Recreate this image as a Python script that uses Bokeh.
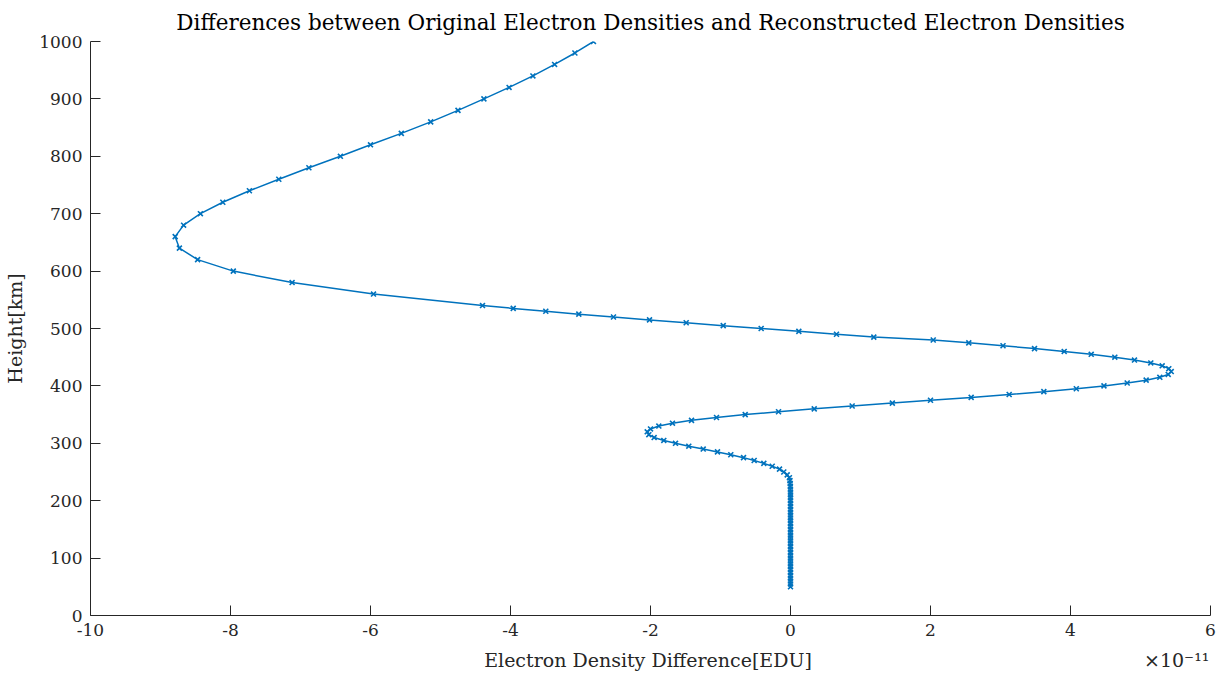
from bokeh.plotting import figure
from bokeh.models import Range1d, FixedTicker
from bokeh.embed import file_html
from bokeh.resources import INLINE

# Heights [km]
heights = [50, 55, 60, 65, 70, 75, 80, 85, 90, 95, 100, 105, 110, 115, 120, 125, 130, 135,
           140, 145, 150, 155, 160, 165, 170, 175, 180, 185, 190, 195, 200, 205, 210, 215,
           220, 225, 230, 235, 240, 245, 250, 255, 260, 265, 270, 275, 280, 285, 290, 295,
           300, 305, 310, 315, 320, 325, 330, 335, 340, 345, 350, 355, 360, 365, 370, 375,
           380, 385, 390, 395, 400, 405, 410, 415, 420, 425, 430, 435, 440, 445, 450, 455,
           460, 465, 470, 475, 480, 485, 490, 495, 500, 505, 510, 515, 520, 525, 530, 535,
           540, 560, 580, 600, 620, 640, 660, 680, 700, 720, 740, 760, 780, 800, 820, 840,
           860, 880, 900, 920, 940, 960, 980, 1000]

# Electron density difference, in units of 1e-11 EDU
diff_e11 = [0.0, 0.0, 0.0, 0.0, 0.0, 0.0, 0.0, 0.0, 0.0, 0.0, 0.0, 0.0, 0.0, 0.0, 0.0, 0.0, 0.0, 0.0,
            0.0, 0.0, 0.0, 0.0, 0.0, 0.0, 0.0, 0.0, 0.0, 0.0, 0.0, 0.0, 0.0, 0.0, 0.0, 0.0,
            -0.001, -0.002, -0.004, -0.008, -0.016, -0.047, -0.096, -0.157, -0.261, -0.381,
            -0.519, -0.671, -0.853, -1.043, -1.247, -1.453,
            -1.643, -1.810, -1.948, -2.024, -2.047, -2.0, -1.881, -1.686, -1.414, -1.057,
            -0.647, -0.171, 0.339, 0.881, 1.455, 2.0,
            2.581, 3.124, 3.619, 4.083, 4.478, 4.810, 5.081, 5.276, 5.396, 5.439, 5.404, 5.310,
            5.147, 4.914, 4.633, 4.296,
            3.910, 3.486, 3.036, 2.547, 2.039, 1.190, 0.657, 0.119, -0.419, -0.961, -1.490,
            -2.014, -2.529, -3.024, -3.496, -3.961,
            -4.40, -5.957, -7.12, -7.96, -8.47, -8.73, -8.79, -8.67, -8.43, -8.11, -7.73,
            -7.31, -6.88, -6.43, -6.00, -5.56,
            -5.14, -4.75, -4.38, -4.02, -3.68, -3.37, -3.08, -2.815]

x_ticks = [-10, -8, -6, -4, -2, 0, 2, 4, 6]
y_ticks = [0, 100, 200, 300, 400, 500, 600, 700, 800, 900, 1000]

title_text = "Differences between Original Electron Densities and Reconstructed Electron Densities"
xlabel = "Electron Density Difference[EDU]"
ylabel = "Height[km]"
exponent_text = "\u00d710\u207b\u00b9\u00b9"

FONT = "DejaVu Serif"
DARK = "#262626"
BLUE = "#0072BD"

NB = "\u00a0"
# x-axis label row: centred quantity name plus the axis multiplier at the right end
xlabel_row = NB * 65 + xlabel + NB * 55 + exponent_text

p = figure(width=1226, height=679, output_backend="svg", toolbar_location=None,
           x_range=Range1d(-10, 6), y_range=Range1d(0, 1000),
           min_border_left=90, min_border_right=16, min_border_top=40, min_border_bottom=64)
p.outline_line_color = None
p.grid.visible = False
p.background_fill_color = "white"
p.border_fill_color = "white"

p.title.text = title_text
p.title.align = "center"
p.title.text_font = FONT
p.title.text_font_size = "21.5px"
p.title.text_font_style = "normal"
p.title.text_color = "black"
p.title.standoff = 14

p.line(diff_e11, heights, line_color=BLUE, line_width=1.5)
p.scatter(diff_e11, heights, marker="x", size=7, line_color=BLUE, line_width=1.6)

for ax in (p.xaxis[0], p.yaxis[0]):
    ax.axis_line_color = DARK
    ax.major_tick_line_color = DARK
    ax.minor_tick_line_color = None
    ax.major_tick_in = 10
    ax.major_tick_out = 0
    ax.major_label_text_font = FONT
    ax.major_label_text_font_size = "17px"
    ax.major_label_text_color = DARK
    ax.axis_label_text_font = FONT
    ax.axis_label_text_font_size = "19px"
    ax.axis_label_text_color = DARK
    ax.axis_label_text_font_style = "normal"

p.xaxis.ticker = FixedTicker(ticks=x_ticks)
p.xaxis.major_label_overrides = {t: str(t) for t in x_ticks}
p.yaxis.ticker = FixedTicker(ticks=y_ticks)
p.yaxis.major_label_overrides = {t: str(t) for t in y_ticks}
p.xaxis.axis_label = xlabel_row
p.yaxis.axis_label = ylabel
p.xaxis.major_label_standoff = 8
p.yaxis.major_label_standoff = 8
p.xaxis.axis_label_standoff = 10
p.yaxis.axis_label_standoff = 10

open("out.html", "w").write(file_html(p, INLINE))
